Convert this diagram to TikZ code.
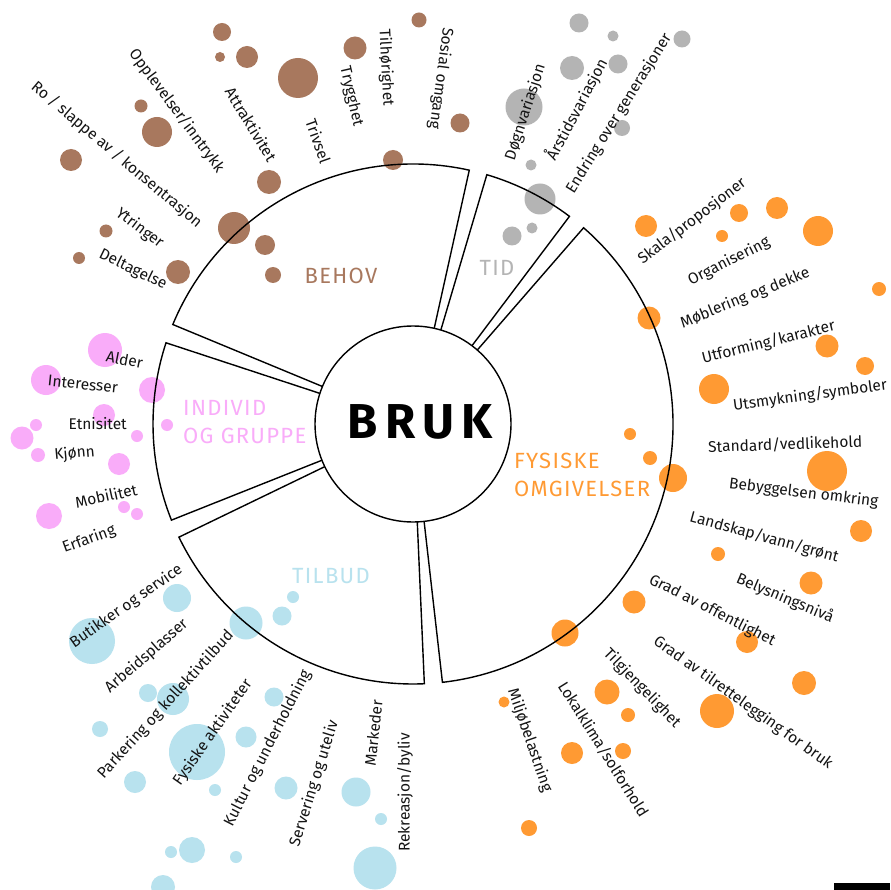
\documentclass[tikz,border=0pt]{standalone}
\usepackage{fontspec}
\setmainfont{Fira Sans}
\usepackage{tikz}
\usetikzlibrary{positioning}

\definecolor{behovcol}{HTML}{A8785E}
\definecolor{tidcol}{HTML}{B4B4B4}
\definecolor{fyscol}{HTML}{FF9A33}
\definecolor{indivcol}{HTML}{F9ACF9}
\definecolor{tilbudcol}{HTML}{B8E2EE}

\begin{document}
\begin{tikzpicture}[
    x=1pt, y=-1pt,
    seg/.style={draw=black, line width=1.4pt},
    lbl/.style={font=\fontsize{15.5}{18}\selectfont, inner sep=0pt, text=black!92},
    ut/.style={lbl, anchor=west, rotate=#1},
    inn/.style={lbl, anchor=east, rotate=#1},
    cat/.style={font=\fontsize{22}{28}\selectfont\addfontfeature{LetterSpace=6}, text=#1, inner sep=0pt, align=left}
]
\fill[white] (0,0) rectangle (890,890);
\useasboundingbox (0,0) rectangle (890,890);

% dots
\foreach \x/\y/\r in {222/32/9, 220/57/5, 247/57/11, 298/78/20, 355/48/11.5, 419/20/7.5, 141/106/6.5, 157/132/15, 71/160/11, 460/123/9.5, 393/160/10, 269/182/12, 234/228/16, 265/245/10, 273/275/8, 106/231/6.5, 79/258/6, 178/272/12}
    \fill[behovcol] (\x,\y) circle[radius=\r pt];
\foreach \x/\y/\r in {579/23/9.5, 613/36/5.5, 682/39/8.5, 572/68/12, 618/64/9.5, 524/107/18.5, 622/128/8, 531/165/5.5, 540/199/15.5, 532/228/5.5, 512/236/9.5}
    \fill[tidcol] (\x,\y) circle[radius=\r pt];
\foreach \x/\y/\r in {646/226/11, 739/213/9, 777/208/11, 722/236/6, 818/231/15, 879/289/7, 649/318/11.5, 827/346/11.5, 865/366/9, 714/389/15, 630/434/6, 650/458/7, 673/478/14, 827/471/20, 861/531/11, 718/554/7, 811/583/11.5, 634/602/11.5, 747/642/11, 804/683/12, 565/633/13.5, 607/692/12.5, 717/711/17, 628/715/7, 504/702/5.5, 572/753/11, 623/751/8, 529/828/8}
    \fill[fyscol] (\x,\y) circle[radius=\r pt];
\foreach \x/\y/\r in {105/350/17, 46/380/15, 152/390/13, 104/415/11, 36/425/6, 22/438/11.5, 167/425/6, 137/436/6, 38/455/7, 119/464/11, 49/516/13, 124/507/6, 137/514/6}
    \fill[indivcol] (\x,\y) circle[radius=\r pt];
\foreach \x/\y/\r in {177/598/14, 92/641/23, 293/597/6, 282/616/9.5, 246/623/16.5, 148/693/9, 173/699/16, 100/729/8, 274/697/9.5, 246/737/10.5, 197/752/28, 135/782/11, 215/790/6, 286/788/11.5, 356/792/14.5, 381/819/6, 192/850/13, 171/852/6, 236/857/6, 163/887/12, 375/868/21.5}
    \fill[tilbudcol] (\x,\y) circle[radius=\r pt];

% ring
\begin{scope}[shift={(413,424)}]
    \foreach \a/\b in {77.5/157.5, 161.8/201.7, 205.8/272.5, 276.5/409, 413/433.5}
        \draw[seg] (\a:98pt) -- (\a:260pt) arc[start angle=\a, end angle=\b, radius=260pt] -- (\b:98pt);
    \draw[seg, fill=white] (0,0) circle[radius=98pt];
\end{scope}
\node[font=\fontsize{49}{50}\selectfont\bfseries\addfontfeature{LetterSpace=15}, inner sep=0pt] (bruk) at (420,422) {BRUK};

% categories
\node[cat=behovcol] (behov) at (341,276) {BEHOV};
\node[cat=tidcol] (tid) at (497,268) {TID};
\node[cat=indivcol, anchor=north west] (indivgr) at (183,400) {INDIVID\\OG GRUPPE};
\node[cat=tilbudcol] (tilbud) at (331,576) {TILBUD};
\node[cat=fyscol, anchor=north west] (fysomg) at (514,453) {FYSISKE\\OMGIVELSER};

% behov
\node[inn=-26] (deltagelse) at (166,286) {Deltagelse};
\node[inn=-37] (ytringer) at (162,245) {Ytringer};
\node[inn=-40] (ro) at (200,225) {Ro / slappe av / konsentrasjon};
\node[inn=-53.5] (opplevelser) at (221,171) {Opplevelser/inntrykk};
\node[inn=-58.5] (attraktivitet) at (273,160) {Attraktivitet};
\node[inn=-70.6] (trivsel) at (326,163) {Trivsel};
\node[inn=-77] (trygghet) at (358,126) {Trygghet};
\node[inn=-87] (tilhorighet) at (388,106) {Tilhørighet};
\node[inn=-97.6] (sosial) at (434,129) {Sosial omgang};

% tid
\node[ut=72] (dognvar) at (510,160) {Døgnvariasjon};
\node[ut=62] (arstidsvar) at (550,159) {Årstidsvariasjon};
\node[ut=58] (endring) at (570,192) {Endring over generasjoner};

% fysiske omgivelser
\node[ut=37.5] (skala) at (640,261) {Skala/proposjoner};
\node[ut=27] (organisering) at (689,282) {Organisering};
\node[ut=22] (moblering) at (681,324) {Møblering og dekke};
\node[ut=14] (utforming) at (702,359) {Utforming/karakter};
\node[ut=7.6] (utsmykning) at (733,406) {Utsmykning/symboler};
\node[ut=2] (standard) at (708,447) {Standard/vedlikehold};
\node[ut=-7] (bebyggelsen) at (729,484) {Bebyggelsen omkring};
\node[ut=-15.4] (landskap) at (690,517) {Landskap/vann/grønt};
\node[ut=-23] (belysning) at (737,578) {Belysningsnivå};
\node[ut=-27] (offentlighet) at (650,579) {Grad av offentlighet};
\node[ut=-35.5] (tilrettelegging) at (655,640) {Grad av tilrettelegging for bruk};
\node[ut=-46] (tilgjengelighet) at (606,651) {Tilgjengelighet};
\node[ut=-58] (lokalklima) at (562,683) {Lokalklima/solforhold};
\node[ut=-71] (miljo) at (512,689) {Miljøbelastning};

% tilbud
\node[inn=35] (butikker) at (181,568) {Butikker og service};
\node[inn=41] (arbeidsplasser) at (186,622) {Arbeidsplasser};
\node[inn=47.7] (parkering) at (231,633) {Parkering og kollektivtilbud};
\node[inn=55] (fysiske) at (249,681) {Fysiske aktiviteter};
\node[inn=63] (kultur) at (307,671) {Kultur og underholdning};
\node[inn=72.6] (servering) at (334,721) {Servering og uteliv};
\node[inn=84] (markeder) at (377,700) {Markeder};
\node[inn=90] (rekreasjon) at (405,733) {Rekreasjon/byliv};

% individ og gruppe
\node[inn=-11] (alder) at (143,363) {Alder};
\node[inn=-6] (interesser) at (118,388) {Interesser};
\node[inn=0] (etnisitet) at (127,424) {Etnisitet};
\node[inn=5] (kjonn) at (95,452) {Kjønn};
\node[inn=12.5] (mobilitet) at (137,489) {Mobilitet};
\node[inn=20] (erfaring) at (115,530) {Erfaring};

\fill (834,883) rectangle (890,890);
\end{tikzpicture}
\end{document}
